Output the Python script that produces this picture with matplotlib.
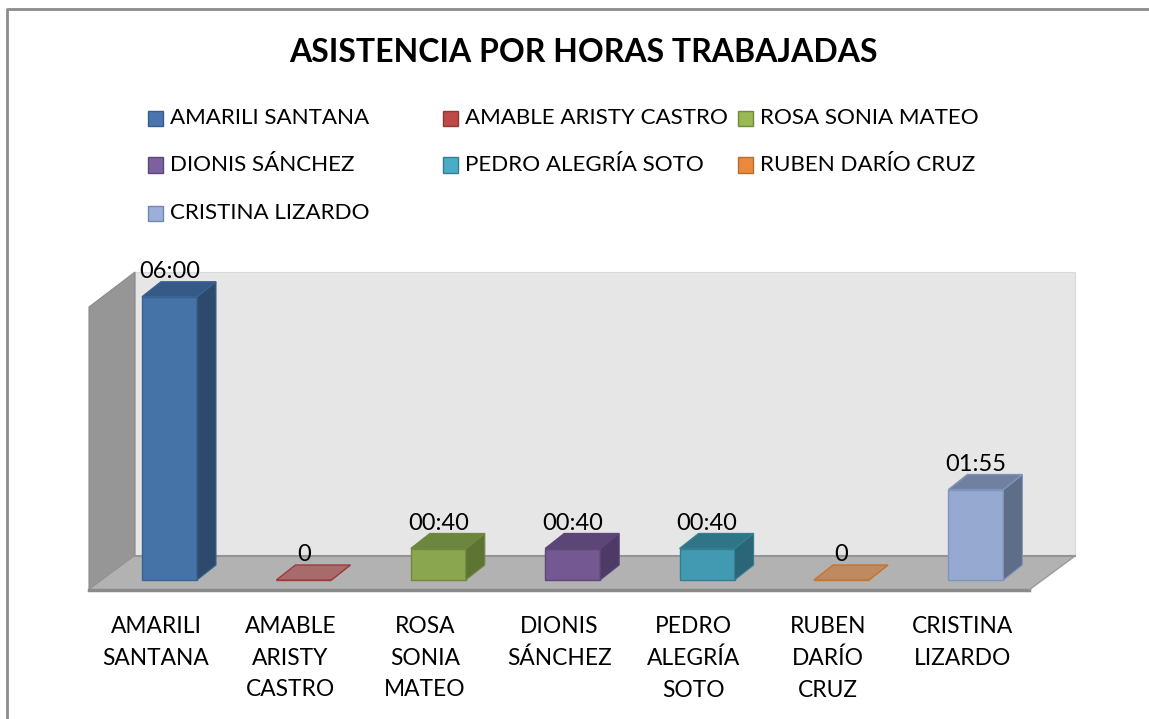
import matplotlib
matplotlib.use("Agg")
import matplotlib.pyplot as plt
from matplotlib.patches import Polygon, Rectangle
from matplotlib.lines import Line2D

# ---------------- data ----------------
names = ["AMARILI SANTANA", "AMABLE ARISTY CASTRO", "ROSA SONIA MATEO",
         "DIONIS SÁNCHEZ", "PEDRO ALEGRÍA SOTO", "RUBEN DARÍO CRUZ",
         "CRISTINA LIZARDO"]
axis_labels = ["AMARILI\nSANTANA", "AMABLE\nARISTY\nCASTRO", "ROSA\nSONIA\nMATEO",
               "DIONIS\nSÁNCHEZ", "PEDRO\nALEGRÍA\nSOTO", "RUBEN\nDARÍO\nCRUZ",
               "CRISTINA\nLIZARDO"]
minutes = [360, 0, 40, 40, 40, 0, 115]
value_labels = ["06:00", "0", "00:40", "00:40", "00:40", "0", "01:55"]
title = "ASISTENCIA POR HORAS TRABAJADAS"

front_colors = ["#4573A8", "#A86868", "#8AA64F", "#745891", "#4299B2", "#BC8457", "#95A9D1"]
side_colors = ["#2D4A6D", "#7A3A3A", "#5E7433", "#4E3A66", "#2A6678", "#9A5E30", "#5E6D88"]
top_colors = ["#355A88", "#A86B6B", "#6B863E", "#5C4577", "#2F7587", "#BD8A62", "#6F80A0"]
edge_colors = ["#3A6190", "#9C3B3B", "#71893F", "#5C4776", "#357D91", "#C8742F", "#8095BC"]
legend_colors = ["#4A76AD", "#BE4B48", "#98B954", "#7D60A0", "#4AACC6", "#EA8A3F", "#9AB0D8"]
legend_edges = ["#385D8A", "#8C3836", "#71893F", "#5C4776", "#357D91", "#B66D31", "#7388AE"]

FONT = "Lato"
# ---------------- layout (pixels) ----------------
W, H = 1149, 719
X0, DX = 169.5, 134.4      # px of first category centre, px per category
Y0, PXH = 580.0, 47.2      # px of zero baseline, px per hour
BAR_W = 55.0
DEPTH_X, DEPTH_Y = 19.0, 15.0

fig = plt.figure(figsize=(W / 100, H / 100), dpi=100)
ax = fig.add_axes([0, 0, 1, 1])
ax.set_xlim((0 - X0) / DX, (W - X0) / DX)
ax.set_ylim((Y0 - H) / PXH, Y0 / PXH)
ax.axis("off")


def P(px, py):
    return ((px - X0) / DX, (Y0 - py) / PXH)


# outer border
ax.add_line(Line2D(*zip(P(7.5, 719), P(7.5, 8.5), P(1149, 8.5)), color="#8C8C8C", lw=2.0))

# walls and floor
ax.add_patch(Polygon([P(135, 272), P(1075, 272), P(1075, 556), P(135, 556)],
                     closed=True, facecolor="#E6E6E6", edgecolor="#D9D9D9", lw=0.8, zorder=1))
ax.add_patch(Polygon([P(89, 307), P(135, 272), P(135, 556), P(89, 590)],
                     closed=True, facecolor="#969696", edgecolor="#8A8A8A", lw=0.8, zorder=1))
ax.add_patch(Polygon([P(135, 556), P(1075, 556), P(1029, 590), P(89, 590)],
                     closed=True, facecolor="#B2B2B2", edgecolor="none", zorder=1))
ax.add_line(Line2D(*zip(P(135, 556), P(1075, 556)), color="#959595", lw=1.5, zorder=2))
ax.add_line(Line2D(*zip(P(89, 590), P(1029, 590)), color="#8A8A8A", lw=2.5, zorder=2))
ax.add_line(Line2D(*zip(P(1029, 590), P(1075, 556)), color="#9A9A9A", lw=1.0, zorder=2))

# bars
hours = [m / 60.0 for m in minutes]
idx = list(range(len(hours)))
bw = BAR_W / DX
ddx = DEPTH_X / DX
ddy = DEPTH_Y / PXH
ax.bar(idx, hours, width=bw, color=front_colors, edgecolor=edge_colors, linewidth=1.0, zorder=3)
for i, v in enumerate(hours):
    l, r = i - bw / 2, i + bw / 2
    ax.add_patch(Polygon([(r, 0), (r, v), (r + ddx, v + ddy), (r + ddx, ddy)], closed=True,
                         facecolor=side_colors[i], edgecolor=edge_colors[i], lw=0.8, zorder=3))
    ax.add_patch(Polygon([(l, v), (r, v), (r + ddx, v + ddy), (l + ddx, v + ddy)], closed=True,
                         facecolor=top_colors[i], edgecolor=edge_colors[i], lw=1.0, zorder=4))
    ax.text(i, v + ddy + 10.5 / PXH, value_labels[i], ha="center", va="center",
            fontsize=17, family=FONT, color="black", zorder=5)

# category labels
for i, lab in enumerate(axis_labels):
    x, _ = P(X0 + DX * i - 13.5, 0)
    _, y = P(0, 616)
    ax.text(x, y, lab, ha="center", va="top", fontsize=16.4, family=FONT,
            linespacing=1.62, color="black")

# title
tx, ty = P(583, 53)
ax.text(tx, ty, title, ha="center", va="center", fontsize=23, fontweight="bold",
        family=FONT, color="black")

# legend
col_x = [148, 443, 738]
row_y = [118, 165, 213]
for k, nm in enumerate(names):
    r, c = divmod(k, 3)
    sx, sy = col_x[c], row_y[r]
    x0, y0 = P(sx, sy + 7.5)
    x1, y1 = P(sx + 15, sy - 7.5)
    ax.add_patch(Rectangle((x0, y0), x1 - x0, y1 - y0, facecolor=legend_colors[k],
                           edgecolor=legend_edges[k], lw=1.0))
    lx, ly = P(sx + 22, sy)
    ax.text(lx, ly, nm, ha="left", va="center", fontsize=16.1, family=FONT, color="black")

fig.savefig("out.png", dpi=100)
